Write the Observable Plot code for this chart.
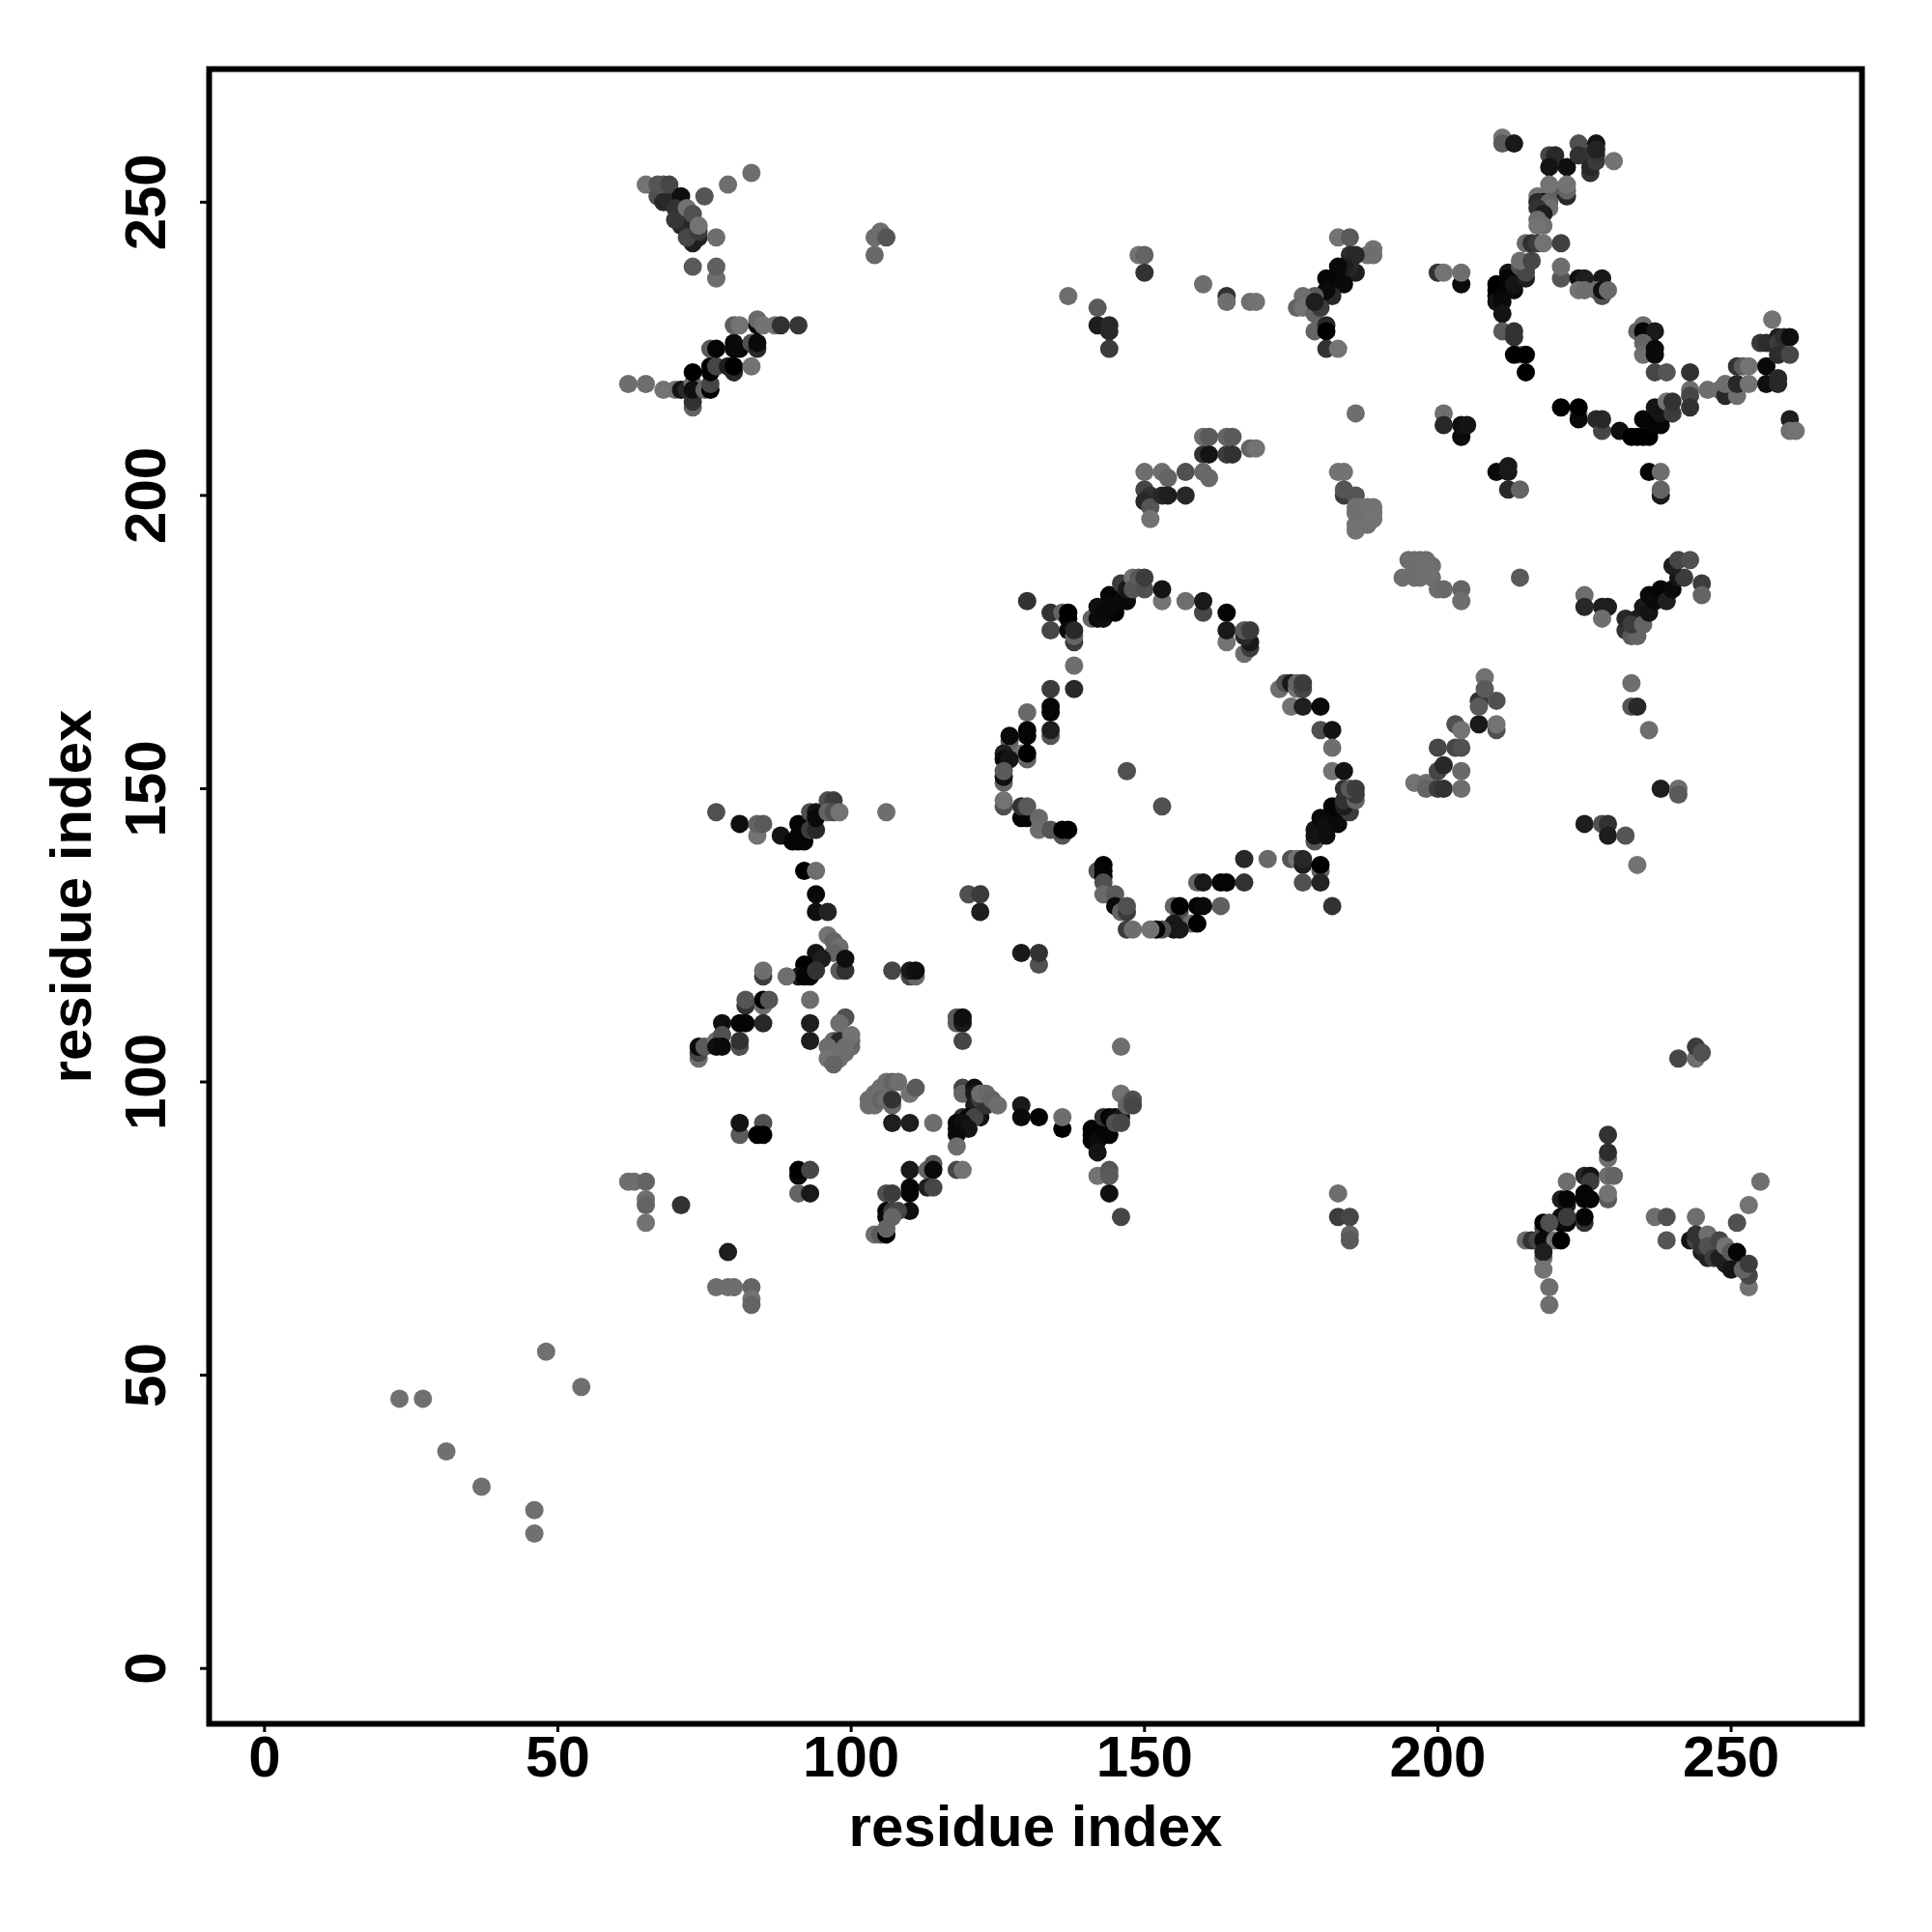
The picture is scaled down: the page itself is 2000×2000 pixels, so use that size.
<!DOCTYPE html>
<html><head><meta charset="utf-8">
<style>html,body{margin:0;padding:0;background:#fff}</style>
<script src="https://cdn.jsdelivr.net/npm/d3@7"></script>
<script src="https://cdn.jsdelivr.net/npm/@observablehq/plot@0.6"></script>
</head><body>
<script>
// each row: residue i, residue j, grey level of the contact
const tickValues=[0,50,100,150,200,250];
const axisTitle="residue index";
const hiddenUnderBlobs=[[97,106,110],[98,106,110],[99,107,100],[99,105,110],[97,104,110],[98,104,110],[100,106,105],[196,189,110],[197,187,112],[198,188,110],[197,186,112],[199,188,110],[196,187,112],[69,250,30],[70,250,35],[71,249,35],[72,247,30],[73,245,35],[74,244,35],[71,246,40],[69,252,50],[70,251,40],[245,71,30],[246,70,35],[247,71,40],[249,69,30],[250,70,40],[245,73,40],[247,73,50]];
const helixTail=[[23,46,112],[27,46,112],[48,54,112],[54,48,112],[31,37,112],[37,31,112],[46,27,112],[46,23,112]];
const topLeftUpper=[[65,253,115],[67,251,80],[67,253,85],[68,253,85],[69,253,70],[71,251,15],[68,250,40],[70,249,50],[71,247,40],[70,247,55],[73,243,30],[72,244,70],[74,245,60],[72,249,115],[73,248,80],[74,246,115],[75,251,85],[79,253,110],[83,255,110],[77,244,110],[73,239,90],[77,237,110],[77,239,95],[104,244,110],[104,241,105],[105,245,110],[106,244,85]];
const topLeftLower=[[62,219,110],[65,219,110],[68,218,115],[70,218,115],[71,218,20],[72,218,40],[73,219,110],[73,215,100],[73,216,50],[73,218,15],[73,221,0],[75,218,100],[76,218,0],[76,219,70],[76,221,5],[76,222,0],[77,222,70],[76,225,90],[77,225,5],[79,222,30],[80,221,40],[80,222,0],[83,222,115],[81,225,10],[80,225,10],[80,226,10],[83,226,80],[84,225,40],[84,226,10],[80,229,95],[81,229,115],[84,229,10],[84,230,105],[85,229,115],[87,229,115],[88,229,50],[91,229,55]];
const topMid=[[137,234,110],[142,232,90],[142,229,30],[144,229,40],[144,228,40],[144,225,60],[149,241,115],[150,241,100],[150,238,50],[160,236,110],[164,234,50],[164,233,110],[168,233,110]];
const strand183=[[169,233,115],[183,244,115],[185,244,90],[189,242,115],[188,241,115],[189,241,110],[185,241,45],[186,241,40],[186,238,30],[185,239,40],[184,236,10],[184,239,30],[183,239,10],[182,236,15],[183,237,10],[181,237,5],[182,234,40],[180,234,20],[181,235,10],[179,234,90],[177,234,110],[176,232,100],[177,232,115],[179,231,100],[180,232,60],[179,233,30],[179,228,100],[181,229,40],[181,228,0],[181,225,50],[183,225,115]];
const upperRightBand=[[200,238,50],[201,238,115],[204,236,10],[204,238,110],[211,261,115],[211,260,90],[213,260,25],[219,258,70],[220,258,40],[219,256,20],[222,256,15],[224,260,80],[224,258,50],[226,258,50],[227,260,20],[226,255,50],[226,256,40],[227,257,60],[227,258,55],[227,259,35],[230,257,115],[222,251,40],[222,252,100],[222,253,115],[219,251,30],[219,252,90],[219,253,115],[217,251,115],[218,250,15],[217,250,40],[219,250,100],[219,249,110],[217,249,50],[218,248,30],[217,247,110],[218,246,110],[217,246,115],[215,243,105],[216,243,50],[217,243,60],[218,243,115],[221,243,65],[221,237,85],[221,239,110],[224,237,15],[225,237,30],[224,235,115],[225,235,110],[228,237,25],[227,235,110],[228,234,80],[228,235,15],[229,235,105]];
const upperRightCurl=[[210,236,0],[210,235,0],[210,234,0],[210,233,20],[211,234,5],[211,233,10],[211,231,20],[212,238,20],[212,237,5],[213,235,10],[213,236,20],[215,237,30],[214,239,80],[215,238,70],[214,240,110],[216,240,70],[211,228,90],[213,228,50],[213,227,50],[214,224,130],[213,224,0],[215,224,0],[215,221,0]];
const rightArc=[[221,215,0],[224,214,130],[224,213,10],[224,215,0],[227,213,40],[228,211,70],[228,213,40],[231,211,15],[233,210,0],[234,210,0],[235,210,0],[236,210,0],[235,213,5],[237,212,5],[238,212,5],[237,215,20],[238,214,20],[239,216,115],[240,214,60],[240,216,50],[243,218,110],[243,217,70],[243,215,50],[243,221,50],[246,218,110],[248,218,110],[249,217,40],[249,219,110],[251,217,110],[251,219,40],[251,222,50],[252,222,90],[253,222,115],[253,219,115],[256,219,15],[256,222,10],[258,220,40],[258,219,40],[255,226,55],[256,226,45],[257,230,115],[258,227,30],[258,226,60],[258,224,45],[259,227,45],[260,227,15],[260,224,70],[260,213,30],[260,211,110],[261,211,115],[235,229,110],[234,228,100],[235,228,5],[237,228,25],[235,226,100],[235,224,110],[237,225,10],[237,224,10],[237,221,70],[239,221,85]];
const middleRight=[[186,214,110],[201,214,110],[201,212,40],[204,210,10],[204,212,15],[205,212,20],[183,204,115],[184,204,115],[184,200,60],[184,201,85],[186,200,85],[186,198,112],[187,198,112],[188,198,115],[189,198,115],[186,197,112],[187,196,112],[188,197,112],[189,197,115],[186,195,112],[186,194,115],[188,195,112],[189,196,115],[210,204,10],[212,205,25],[212,204,25],[212,201,40],[214,201,100],[236,204,5],[238,204,110],[238,200,25],[238,201,100]];
const diagonal200=[[150,204,110],[150,201,70],[151,200,50],[150,199,40],[151,198,85],[151,196,115],[153,204,110],[154,203,100],[153,200,40],[154,200,30],[157,204,80],[157,200,40],[160,210,110],[161,210,90],[160,207,50],[161,207,20],[160,204,105],[161,203,105],[164,210,100],[165,210,90],[164,207,60],[165,207,50],[168,208,100],[169,208,115]];
const cluster190=[[194,186,110],[195,189,110],[197,189,110],[198,189,110],[196,186,110],[198,187,112],[199,186,112],[200,184,110],[201,184,105],[204,184,100],[204,182,110],[214,186,90]];
const cluster155=[[196,151,115],[198,151,110],[198,150,100],[200,150,60],[201,150,50],[204,150,110],[200,153,70],[200,157,70],[201,154,40],[203,157,70],[204,153,105],[204,157,80],[203,161,80],[204,160,115],[207,161,25],[210,160,80],[210,161,115],[207,165,50],[207,164,90],[210,165,80],[208,169,115],[208,167,90]];
const cluster180=[[225,183,110],[225,181,40],[228,181,30],[229,181,30],[228,179,110],[232,177,50],[233,176,90],[234,176,100],[232,179,40],[234,179,30],[233,178,60],[235,178,100],[235,181,25],[236,180,20],[236,183,10],[237,182,10],[238,184,5],[239,182,30],[240,184,10],[241,186,20],[242,186,60],[240,188,30],[241,189,70],[243,189,80],[245,185,60],[245,183,100]];
const scatterRight=[[233,168,110],[233,164,85],[234,164,40],[236,160,110],[238,150,30],[241,150,110],[241,149,90],[225,144,30],[228,144,80],[229,144,50],[229,142,30],[232,142,85],[234,137,115],[241,104,70],[244,104,110],[244,106,60],[245,105,80]];
const ringLeft=[[130,182,50],[134,180,50],[136,180,100],[137,180,0],[134,177,70],[137,179,0],[137,177,10],[138,175,60],[138,176,100],[138,177,40],[138,171,110],[134,167,60],[138,167,40],[134,164,5],[134,163,5],[134,159,85],[134,160,30],[130,163,105],[130,159,5],[130,160,5],[130,155,100],[129,156,115],[130,156,0],[127,158,100],[127,159,10],[126,156,30],[126,155,10],[127,155,20],[126,151,100],[126,152,15],[126,153,90],[126,147,80],[126,148,115],[129,145,5],[130,145,5],[129,147,50],[130,147,90],[132,145,105],[132,143,110],[134,143,85],[136,142,85],[136,143,0],[137,143,0]];
const ringTop=[[141,179,100],[142,179,10],[142,181,15],[143,179,15],[143,180,10],[144,183,5],[145,180,5],[144,181,10],[146,185,60],[146,182,10],[147,182,10],[147,184,25],[148,186,115],[148,184,85],[149,186,90],[150,184,80],[150,186,60],[153,182,115],[153,184,20],[157,182,110],[160,180,70],[160,182,25],[164,180,5],[164,175,115],[164,177,25],[167,173,110],[168,174,60],[168,175,25],[167,176,40],[167,177,90],[168,177,60]];
const ringRight=[[173,167,110],[174,168,80],[175,168,25],[176,167,115],[176,168,100],[177,167,70],[177,168,60],[175,164,115],[177,164,30],[180,164,10],[180,160,80],[182,160,20],[182,157,110],[182,153,115],[184,153,20],[179,141,85],[179,142,20],[179,143,20],[180,143,20],[181,142,15],[180,145,10],[181,144,15],[183,144,10],[182,146,10],[182,147,5],[185,146,60],[184,147,30],[184,148,50],[186,148,100],[186,149,60],[184,150,50],[185,150,90],[186,150,60]];
const ringBottom=[[147,153,80],[153,147,80],[167,138,40],[171,138,105],[175,138,85],[176,138,115],[177,137,30],[177,138,40],[180,136,100],[180,137,0],[177,134,80],[180,134,35],[182,130,50],[159,134,100],[160,134,25],[163,134,5],[164,134,5],[167,134,50],[163,130,95],[155,130,100],[156,129,80],[156,130,0],[159,130,5],[160,130,10],[158,127,110],[159,127,0],[155,127,25],[155,126,20],[156,126,25],[153,126,80],[152,126,5],[151,126,115],[147,126,60],[148,126,110],[142,136,85],[143,137,0],[143,136,5],[143,135,5],[143,134,80],[143,132,105],[145,132,90],[145,130,10],[146,129,100],[147,129,60],[147,130,80],[120,132,80],[122,129,30],[122,132,60],[129,122,25],[132,120,80],[132,122,50]];
const lowerLeftTop=[[77,146,80],[81,144,15],[84,142,115],[84,144,100],[85,144,90],[88,142,20],[90,141,5],[91,141,5],[92,141,5],[91,144,5],[91,142,5],[93,143,60],[94,143,40],[93,146,80],[94,146,20],[94,145,10],[96,148,80],[97,148,60],[96,146,100],[97,146,80],[98,146,115],[106,146,110],[92,136,0],[94,136,110],[94,132,10],[94,129,15],[96,129,35]];
const lowerLeftMid=[[96,125,115],[97,124,100],[98,123,110],[97,122,100],[94,120,60],[94,122,20],[95,121,30],[98,119,90],[99,119,50],[99,121,15],[92,120,0],[91,118,25],[92,118,5],[93,118,5],[94,119,50],[89,118,110],[85,118,60],[85,119,110],[107,119,70],[110,118,70],[111,118,105],[110,119,25],[111,119,15]];
const lowerLeftLow=[[82,113,50],[82,114,85],[85,113,110],[85,114,0],[86,114,85],[93,114,110],[78,110,15],[81,110,5],[82,110,5],[85,110,40],[93,110,30],[93,107,30],[99,111,80],[98,110,110],[97,107,105],[98,107,40],[100,107,100],[100,108,115],[96,106,110],[99,106,110],[97,105,110],[98,105,110],[96,104,115],[97,103,100],[118,110,90],[118,111,90],[119,110,25],[119,111,15],[119,107,70],[74,104,110],[74,105,70],[74,106,10],[75,106,90],[77,107,110],[78,108,80],[77,106,15],[78,106,10],[81,106,80],[81,107,50]];
const blob100=[[103,96,110],[103,97,110],[104,96,110],[104,98,110],[105,99,110],[105,97,100],[106,97,110],[107,96,105],[107,97,50],[106,100,110],[107,100,100],[108,100,110],[110,98,115],[111,99,90],[107,93,30],[110,93,30],[114,93,110],[81,91,90],[81,93,20],[85,93,80],[84,91,0],[85,91,0],[91,84,10],[91,85,0],[93,85,70],[91,81,100],[93,81,25]];
const lowerBand=[[62,83,110],[63,83,110],[65,83,100],[65,80,110],[65,79,100],[65,76,115],[71,79,50],[77,65,110],[79,65,110],[80,65,110],[83,65,100],[83,63,115],[83,62,100],[79,71,30],[183,81,110],[183,77,60],[185,77,70],[185,74,100],[185,73,90]];
const lowerStrand=[[119,99,70],[119,98,100],[121,99,15],[121,98,25],[121,96,30],[122,94,20],[119,94,50],[120,94,5],[121,94,70],[122,97,60],[123,96,50],[122,98,110],[123,98,105],[124,97,100],[125,96,110],[118,93,5],[118,92,10],[119,93,15],[120,92,20],[118,91,10],[118,89,110],[118,85,70],[119,85,115],[129,96,25],[129,94,10],[132,94,5],[136,92,0],[136,94,110]];
const lowerHairpin=[[146,106,110],[141,92,5],[141,91,5],[141,90,5],[142,91,5],[142,90,10],[142,88,20],[143,92,5],[144,91,5],[143,94,50],[144,94,5],[145,94,10],[146,94,25],[145,93,80],[146,93,70],[146,98,115],[147,96,100],[148,97,80],[148,96,70],[142,84,115],[144,85,85],[144,84,90],[144,81,15],[146,77,70]];
const lowerFoot=[[110,85,25],[110,82,5],[110,81,5],[110,78,15],[113,85,100],[114,86,85],[114,85,10],[113,82,30],[114,82,70],[106,81,80],[107,81,60],[106,78,5],[106,77,10],[107,78,60],[108,78,70],[107,77,100],[104,74,110],[105,74,90],[106,74,0],[106,75,100]];
const lowerRightA=[[229,91,50],[229,87,110],[229,88,45],[225,84,40],[226,84,20],[226,83,60],[229,84,110],[230,84,100],[229,80,90],[229,81,115],[222,83,110],[221,80,30],[222,79,30],[222,80,5],[225,81,5],[225,80,5],[226,80,5],[225,76,50],[225,77,5],[221,76,5],[222,76,10],[221,77,10],[222,77,60],[218,75,70],[218,76,0],[219,76,80],[215,73,110],[216,73,50],[217,73,70],[218,73,10],[220,73,115],[221,73,0],[218,70,110],[218,71,30],[218,68,115],[219,65,110],[219,62,110]];
const lowerRightB=[[237,77,110],[239,77,80],[239,73,85],[244,77,110],[243,73,20],[244,73,70],[244,74,50],[245,72,50],[246,74,110],[246,72,80],[247,70,60],[248,70,30],[248,73,70],[249,72,115],[250,71,90],[251,71,5],[250,68,20],[251,76,80],[253,79,115],[255,83,110],[253,65,115],[253,67,70],[252,68,100],[253,69,60]];

const clusters=[hiddenUnderBlobs,helixTail,topLeftUpper,topLeftLower,topMid,strand183,upperRightBand,upperRightCurl,rightArc,middleRight,diagonal200,cluster190,cluster155,cluster180,scatterRight,ringLeft,ringTop,ringRight,ringBottom,lowerLeftTop,lowerLeftMid,lowerLeftLow,blob100,lowerBand,lowerStrand,lowerHairpin,lowerFoot,lowerRightA,lowerRightB];
const contacts=clusters.flat().map(([i,j,shade])=>({i,j,shade}));

const font="'Liberation Sans',Arial,Helvetica,sans-serif";
const chart=Plot.plot({
  width:2000,height:2000,
  marginLeft:216,marginRight:73,marginTop:71,marginBottom:216,
  style:{fontFamily:font,background:"#fff"},
  x:{domain:[-9.44,272.3],range:[216,1927]},
  y:{domain:[-9.44,272.7],range:[1784,71]},
  color:{type:"linear",domain:[0,255],range:["#000","#fff"]},
  marks:[
    Plot.dot(contacts,{x:"i",y:"j",r:9.5,fill:"shade",stroke:null}),
    Plot.frame({stroke:"#000",strokeWidth:6}),
    Plot.axisX({ticks:tickValues,tickFormat:d=>d,tickSize:9,tickPadding:3,strokeWidth:3,fontSize:60,fontWeight:"bold",fill:"#000",stroke:"#000",label:axisTitle,labelAnchor:"center",labelArrow:"none",labelOffset:126,marginBottom:216}),
    Plot.axisY({ticks:tickValues,tickFormat:d=>d,tickSize:9,tickPadding:37,strokeWidth:3,tickRotate:-90,fontSize:60,fontWeight:"bold",fill:"#000",stroke:"#000",label:axisTitle,labelAnchor:"center",labelArrow:"none",labelOffset:165,marginLeft:216})
  ]
});
document.body.appendChild(chart);
</script>
</body></html>
